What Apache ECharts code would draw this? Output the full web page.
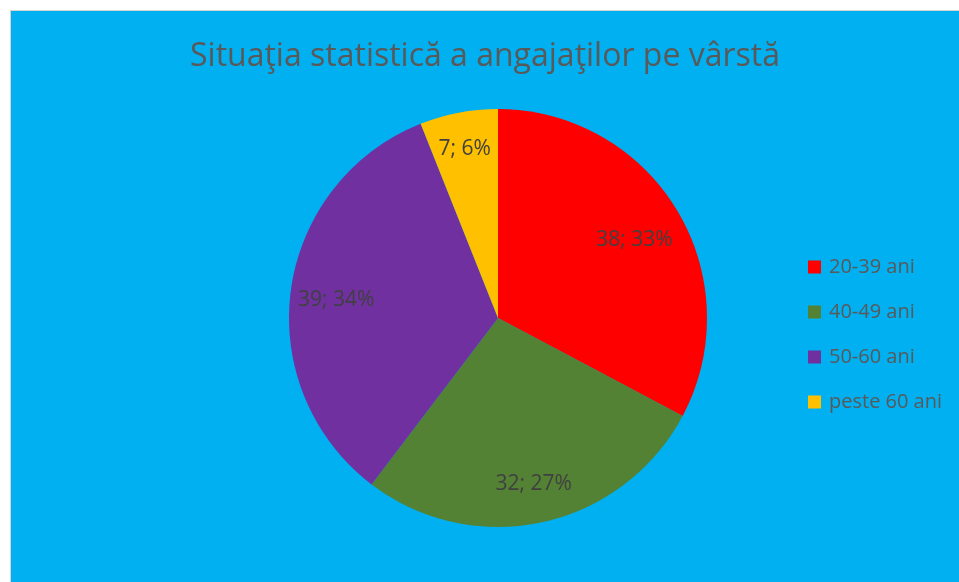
<!DOCTYPE html>
<html>
<head>
<meta charset="utf-8">
<script src="https://cdn.jsdelivr.net/npm/echarts@6/dist/echarts.min.js"></script>
<style>
    html, body { margin: 0; padding: 0; background: #ffffff; }
    #chart {
        position: absolute;
        left: 10px;
        top: 10px;
        width: 948px;
        height: 571px;
        border-left: 1px solid #d4d4d4;
        border-top: 1px solid #d4d4d4;
    }
</style>
</head>
<body>
<div id="chart"></div>
<script>
// data
const categories = ['20-39 ani', '40-49 ani', '50-60 ani', 'peste 60 ani'];
const counts = [38, 32, 39, 7];
const sliceColors = ['#ff0000', '#548235', '#7030a0', '#ffc000'];
// how far out (fraction of radius) each label sits
const labelRadius = [0.74, 0.77, 0.76, 0.82];

const cx = 487, cy = 307, R = 209;

const chart = echarts.init(document.getElementById('chart'));

const option = {
    backgroundColor: '#00b0f0',
    animation: false,
    title: {
        text: 'Situaţia statistică a angajaţilor pe vârstă',
        left: 'center',
        top: 25,
        textStyle: {
            fontFamily: 'Open Sans',
            fontWeight: 'normal',
            fontSize: 32,
            color: '#595959'
        }
    },
    legend: {
        orient: 'vertical',
        left: 792,
        top: 241,
        itemWidth: 13,
        itemHeight: 13,
        itemGap: 25,
        icon: 'rect',
        data: categories,
        textStyle: {
            fontFamily: 'Open Sans',
            fontSize: 20,
            color: '#595959',
            padding: [0, 0, 0, 3]
        }
    },
    series: [
        {
            type: 'pie',
            center: [cx, cy],
            radius: R,
            startAngle: 90,
            clockwise: true,
            percentPrecision: 0,
            data: categories.map((name, i) => ({
                name: name,
                value: counts[i],
                itemStyle: { color: sliceColors[i] }
            })),
            label: {
                show: true,
                position: 'inside',
                formatter: '{c}; {d}%',
                fontFamily: 'Open Sans',
                fontSize: 21,
                color: '#404040'
            },
            labelLine: { show: false },
            // push the labels out along their slice, Excel style
            labelLayout: (params) => {
                const r = params.labelRect;
                const vx = r.x + r.width / 2 - cx;
                const vy = r.y + r.height / 2 - cy;
                const k = labelRadius[params.dataIndex] / 0.5 - 1;
                return { dx: vx * k, dy: vy * k + 4 };
            },
            emphasis: { disabled: true }
        }
    ]
};

chart.setOption(option);
</script>
</body>
</html>
